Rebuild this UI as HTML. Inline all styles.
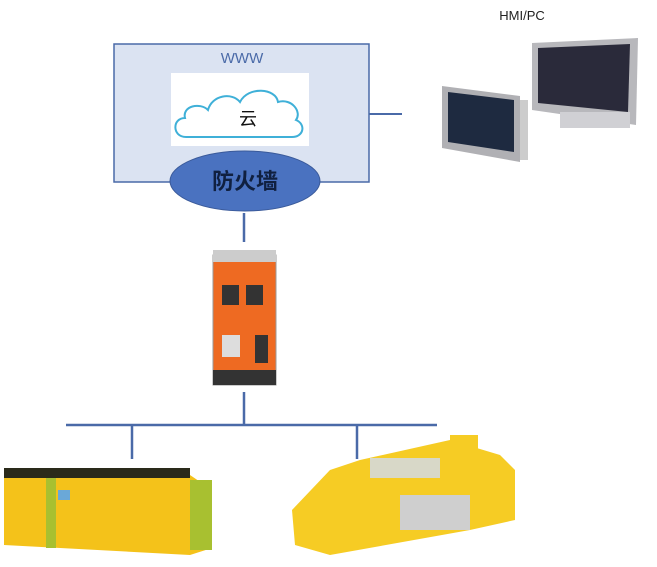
<!DOCTYPE html>
<html><head><meta charset="utf-8"><style>
body{margin:0;background:#fff;width:657px;height:562px;overflow:hidden;font-family:"Liberation Sans","Noto Sans CJK SC",sans-serif}
</style></head><body>
<svg width="657" height="562" viewBox="0 0 657 562" xmlns="http://www.w3.org/2000/svg" font-family="Liberation Sans, Noto Sans CJK SC, sans-serif">
<rect x="114" y="44" width="255" height="138" fill="#dbe3f2" stroke="#4a6aa8" stroke-width="1.5"/>
<text x="242" y="63" font-size="15" fill="#4a6aa8" text-anchor="middle">WWW</text>
<rect x="171" y="73" width="138" height="73" fill="#fff"/>
<path d="M186,137 C172,137 172,118 185,118 C182,106 200,102 208,110 C212,95 232,92 240,102 C248,86 276,88 278,102 C292,98 302,112 296,120 C306,124 304,137 292,137 Z" fill="#fff" stroke="#3fb0d8" stroke-width="2"/>
<text x="248" y="125" font-size="18" fill="#111" text-anchor="middle">云</text>
<line x1="369" y1="114" x2="402" y2="114" stroke="#4a6aa8" stroke-width="2"/>
<ellipse cx="245" cy="181" rx="75" ry="30" fill="#4a72c0" stroke="#3a5a9a"/>
<text x="245" y="189" font-size="22" font-weight="bold" fill="#102040" text-anchor="middle">防火墙</text>
<line x1="244" y1="213" x2="244" y2="242" stroke="#4a6aa8" stroke-width="2.5"/>
<text x="522" y="20" font-size="13" fill="#222" text-anchor="middle">HMI/PC</text>
<!-- HMI -->
<polygon points="532,43 638,38 636,125 532,110" fill="#b8b8bc"/>
<polygon points="538,48 630,44 628,112 538,103" fill="#2a2a3a"/>
<rect x="560" y="112" width="70" height="16" fill="#d0d0d4"/>
<polygon points="442,86 520,96 520,162 442,148" fill="#b0b0b4"/>
<polygon points="448,92 514,100 514,152 448,142" fill="#1e2a40"/>
<rect x="520" y="100" width="8" height="60" fill="#ccc"/>
<!-- orange device -->
<rect x="213" y="255" width="63" height="130" fill="#ee6a22" stroke="#999"/>
<rect x="213" y="250" width="63" height="12" fill="#ccc"/>
<rect x="222" y="285" width="17" height="20" fill="#333"/><rect x="246" y="285" width="17" height="20" fill="#333"/>
<rect x="222" y="335" width="18" height="22" fill="#ddd"/><rect x="255" y="335" width="13" height="28" fill="#333"/>
<rect x="213" y="370" width="63" height="15" fill="#333"/>
<line x1="244" y1="392" x2="244" y2="425" stroke="#4a6aa8" stroke-width="2.5"/>
<line x1="66" y1="425" x2="437" y2="425" stroke="#4a6aa8" stroke-width="2.5"/>
<line x1="132" y1="425" x2="132" y2="459" stroke="#4a6aa8" stroke-width="2.5"/>
<line x1="357" y1="425" x2="357" y2="459" stroke="#4a6aa8" stroke-width="2.5"/>
<!-- left PLC -->
<polygon points="4,470 190,475 212,490 212,548 190,555 4,545" fill="#f4c21a"/>
<rect x="190" y="480" width="22" height="70" fill="#a8c030"/>
<rect x="46" y="470" width="10" height="78" fill="#a8c030"/>
<rect x="4" y="468" width="186" height="10" fill="#2a2a1a"/>
<rect x="58" y="490" width="12" height="10" fill="#6aa8d8"/>
<!-- right PLC -->
<polygon points="292,510 330,470 360,460 450,440 500,455 515,470 515,520 470,530 330,555 295,545" fill="#f6cc24"/>
<rect x="400" y="495" width="70" height="35" fill="#cfcfcf"/>
<rect x="370" y="458" width="70" height="20" fill="#d8d8c8"/>
<rect x="450" y="435" width="28" height="22" fill="#f6cc24"/>
</svg>
</body></html>
